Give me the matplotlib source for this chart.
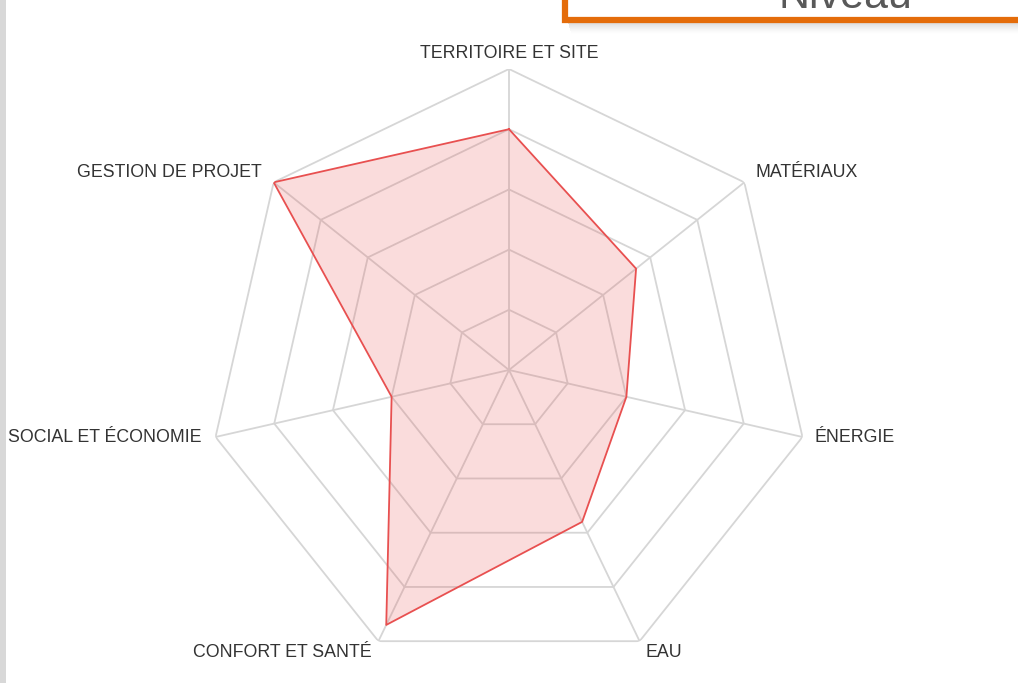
import numpy as np
import matplotlib.pyplot as plt
from matplotlib.patches import Rectangle

plt.rcParams['font.family'] = ['Liberation Sans', 'DejaVu Sans']

categories = ["TERRITOIRE ET SITE", "MATÉRIAUX", "ÉNERGIE", "EAU",
              "CONFORT ET SANTÉ", "SOCIAL ET ÉCONOMIE", "GESTION DE PROJET"]
values = [4, 2.7, 2, 2.8, 4.7, 2, 5]
levels = [1, 2, 3, 4, 5]
title_text = "Niveau"

W, H = 1018, 683
fig = plt.figure(figsize=(W / 100, H / 100), dpi=100)
fig.patch.set_facecolor('white')

# radar area: centre (509, 370) px, outer radius 301 px
cx, cy, R = 509, 370, 301
ax = fig.add_axes([(cx - R) / W, (H - cy - R) / H, 2 * R / W, 2 * R / H],
                  projection='polar')
ax.set_theta_zero_location('N')
ax.set_theta_direction(-1)
ax.set_ylim(0, max(levels))
ax.axis('off')

n = len(categories)
theta = np.linspace(0, 2 * np.pi, n, endpoint=False)
theta_c = np.append(theta, theta[0])

grid_col = '#d6d6d6'
for lv in levels:
    ax.plot(theta_c, [lv] * (n + 1), color=grid_col, lw=1.3, zorder=1)
for t in theta:
    ax.plot([t, t], [0, max(levels)], color=grid_col, lw=1.3, zorder=1)

vals_c = np.append(values, values[0])
ax.fill(theta_c, vals_c, color=(0.91, 0.33, 0.33), alpha=0.2, lw=0, zorder=2)
ax.plot(theta_c, vals_c, color='#e85050', lw=1.3, zorder=3)

# axis labels around the outer ring (offsets in px)
offsets = [(0, 15, 'center'), (11, 10, 'left'), (12, -1, 'left'), (6, -11, 'left'),
           (-7, -11, 'right'), (-14, -1, 'right'), (-12, 10, 'right')]
for t, lab, (dx, dy, ha) in zip(theta, categories, offsets):
    ax.annotate(lab, xy=(t, max(levels)), xytext=(dx * 0.72, dy * 0.72),
                textcoords='offset points', ha=ha, va='center',
                fontsize=12.8, color='#333333', annotation_clip=False)

# overlay in pixel coordinates for the frame decorations
ov = fig.add_axes([0, 0, 1, 1], facecolor='none')
ov.set_xlim(0, W)
ov.set_ylim(H, 0)
ov.axis('off')

# left grey strip
ov.add_patch(Rectangle((0, 0), 6, H, color='#d8d8d8', lw=0))

# soft shadow under the header box
for i in range(12):
    ov.add_patch(Rectangle((568 + i * 0.3, 22 + i), W, 1.2, color='#555555',
                           alpha=0.22 * (1 - i / 12) ** 1.5, lw=0))

# header box with orange border
ov.add_patch(Rectangle((565, -40), 600, 60, facecolor='white',
                       edgecolor='#e46c0a', lw=4.5, zorder=3))
ov.text(845, 8, title_text, ha='center', va='baseline', fontsize=31,
        color='#595959', zorder=4)

fig.savefig('out.png', dpi=100)
